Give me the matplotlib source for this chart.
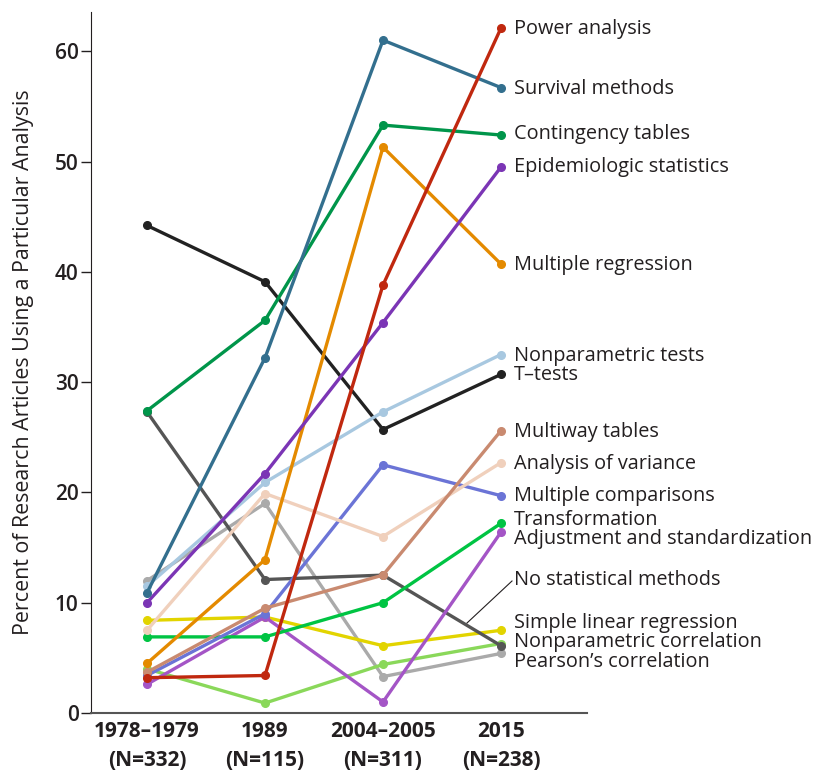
import matplotlib
matplotlib.use("Agg")
import matplotlib.pyplot as plt

periods = ["1978\u20131979\n(N=332)", "1989\n(N=115)", "2004\u20132005\n(N=311)", "2015\n(N=238)"]

names = ["Power analysis", "Survival methods", "Contingency tables", "Epidemiologic statistics",
         "Multiple regression", "Nonparametric tests", "T\u2013tests", "Multiway tables",
         "Analysis of variance", "Multiple comparisons", "Transformation",
         "Adjustment and standardization", "No statistical methods",
         "Simple linear regression", "Nonparametric correlation", "Pearson\u2019s correlation"]

power_analysis = [3.2, 3.4, 38.8, 62.1]
survival_methods = [10.9, 32.2, 61.0, 56.7]
contingency_tables = [27.4, 35.6, 53.3, 52.4]
epidemiologic_statistics = [10.0, 21.7, 35.4, 49.5]
multiple_regression = [4.5, 13.9, 51.3, 40.7]
nonparametric_tests = [11.5, 20.9, 27.3, 32.5]
t_tests = [44.2, 39.1, 25.7, 30.7]
multiway_tables = [3.7, 9.5, 12.5, 25.6]
analysis_of_variance = [7.5, 19.9, 16.0, 22.7]
multiple_comparisons = [3.4, 9.0, 22.5, 19.7]
transformation = [6.9, 6.9, 10.0, 17.2]
adjustment_standardization = [2.6, 8.7, 1.0, 16.4]
no_statistical_methods = [27.3, 12.1, 12.5, 6.1]
simple_linear_regression = [8.4, 8.7, 6.1, 7.5]
nonparametric_correlation = [4.0, 0.9, 4.4, 6.3]
pearsons_correlation = [12.0, 19.0, 3.3, 5.4]

series = [power_analysis, survival_methods, contingency_tables, epidemiologic_statistics,
          multiple_regression, nonparametric_tests, t_tests, multiway_tables,
          analysis_of_variance, multiple_comparisons, transformation,
          adjustment_standardization, no_statistical_methods,
          simple_linear_regression, nonparametric_correlation, pearsons_correlation]

colors = ["#c0280f", "#336f8e", "#00954a", "#7b35b5", "#e48a00", "#a8c8e0", "#222222",
          "#c98a70", "#f0d0bc", "#6b74d6", "#00c443", "#a455c6", "#555555",
          "#e2d400", "#8ad85a", "#aaaaaa"]

# label y positions (data units) for the right-hand labels
label_y = [62.0, 56.6, 52.5, 49.5, 40.6, 32.4, 30.6, 25.5, 22.6, 19.7, 17.5, 15.8,
           12.1, 8.2, 6.4, 4.6]

W, H = 819, 773
fig = plt.figure(figsize=(W / 100, H / 100), dpi=100)
left, right, bottom, top = 91, 819, 713, 12
ax = fig.add_axes([left / W, (H - bottom) / H, (right - left) / W, (bottom - top) / H])

x = list(range(len(periods)))
order = list(range(len(series)))[::-1]
for i in order:
    ax.plot(x, series[i], color=colors[i], lw=2.4, marker="o", ms=5.5,
            solid_joinstyle="round", clip_on=False, zorder=3)

px_per_unit = 118
x0 = 147
ax.set_xlim((left - x0) / px_per_unit, (right - x0) / px_per_unit)
ax.set_ylim(0, (bottom - top) / 11.03)

font = "Open Sans"
for i, name in enumerate(names):
    ax.text(3.11, label_y[i], name, fontsize=14.3, family=font, color="#231f20",
            va="center", ha="left")

# leader line for "No statistical methods"
ax.plot([(467 - x0) / px_per_unit, (512 - x0) / px_per_unit],
        [(bottom - 623) / 11.03, (bottom - 581) / 11.03], color="#231f20", lw=0.8,
        clip_on=False, zorder=4)

ax.set_xticks(x)
ax.set_xticklabels(periods, fontsize=15, fontweight="bold", family=font, color="#231f20",
                   linespacing=1.45)
ax.set_yticks([0, 10, 20, 30, 40, 50, 60])
ax.set_yticklabels(["0", "10", "20", "30", "40", "50", "60"], fontsize=15,
                   fontweight="semibold", family=font, color="#231f20")
ax.tick_params(axis="x", length=0, pad=6)
ax.tick_params(axis="y", length=7, width=1, color="#231f20", pad=2)
ax.set_ylabel("Percent of Research Articles Using a Particular Analysis", fontsize=15.4,
              family=font, color="#231f20")
ax.yaxis.set_label_coords(-(91 - 34) / (right - left), 0.5)

for s in ["top", "right"]:
    ax.spines[s].set_visible(False)
ax.spines["left"].set_color("#231f20")
ax.spines["bottom"].set_color("#555555")
ax.spines["bottom"].set_linewidth(1.5)
ax.spines["bottom"].set_bounds((left - x0) / px_per_unit, (587 - x0) / px_per_unit)

fig.savefig("out.png", dpi=100)
